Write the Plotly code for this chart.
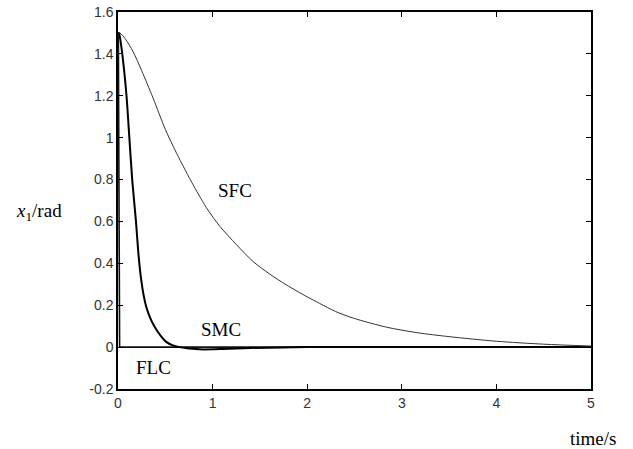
import plotly.graph_objects as go

# SFC (slow) response
sfc_t = [0, 0.02, 0.08, 0.16, 0.25, 0.37, 0.5, 0.62, 0.8, 0.95, 1.08, 1.25, 1.43, 1.6, 1.78, 2.0, 2.13, 2.3, 2.49, 2.84, 3.16, 3.5, 4.0, 4.5, 5.0]
sfc_y = [1.5, 1.5, 1.47, 1.41, 1.32, 1.19, 1.04, 0.925, 0.77, 0.655, 0.575, 0.49, 0.408, 0.35, 0.297, 0.24, 0.209, 0.17, 0.138, 0.095, 0.069, 0.05, 0.028, 0.014, 0.005]

# SMC (fast) response
smc_t = [0, 0.01, 0.02, 0.045, 0.09, 0.12, 0.15, 0.19, 0.215, 0.24, 0.27, 0.30, 0.34, 0.39, 0.45, 0.51, 0.58, 0.65, 0.75, 0.9, 1.1, 1.4, 2.0, 5.0]
smc_y = [1.5, 1.5, 1.48, 1.4, 1.2, 1.0, 0.8, 0.6, 0.45, 0.34, 0.25, 0.19, 0.14, 0.095, 0.055, 0.025, 0.008, 0.0, -0.007, -0.011, -0.009, -0.004, 0.0, 0.0]

# FLC (very fast) response
flc_t = [0, 0.004, 0.008, 0.011, 0.014, 0.017, 0.5, 5.0]
flc_y = [1.5, 1.45, 1.0, 0.5, 0.1, 0.0, 0.0, 0.0]

x_ticks = [0, 1, 2, 3, 4, 5]
y_ticks = [-0.2, 0, 0.2, 0.4, 0.6, 0.8, 1.0, 1.2, 1.4, 1.6]
y_tick_text = ["-0.2", "0", "0.2", "0.4", "0.6", "0.8", "1", "1.2", "1.4", "1.6"]

labels = [("SFC", 1.24, 0.75), ("SMC", 1.09, 0.082), ("FLC", 0.375, -0.097)]

W, H = 633, 449

fig = go.Figure()
fig.add_trace(go.Scatter(x=flc_t, y=flc_y, mode="lines", line=dict(color="#111111", width=1.6), showlegend=False))
fig.add_trace(go.Scatter(x=smc_t, y=smc_y, mode="lines", line=dict(color="#000000", width=2, shape="spline", smoothing=0.6), showlegend=False))
fig.add_trace(go.Scatter(x=sfc_t, y=sfc_y, mode="lines", line=dict(color="#333333", width=1, shape="spline", smoothing=0.8), showlegend=False))

for txt, tx, ty in labels:
    fig.add_annotation(x=tx, y=ty, text=txt, showarrow=False,
                       font=dict(family="Liberation Serif", size=19, color="#000000"))

fig.add_annotation(x=39 / W, y=0.645, xref="paper", yref="y", text="<i>x</i><sub>1</sub>/rad",
                   showarrow=False, xanchor="center", yanchor="middle",
                   font=dict(family="Liberation Serif", size=19, color="#000000"))
fig.add_annotation(x=593 / W, y=1 - 438 / H, xref="paper", yref="paper", text="time/s",
                   showarrow=False, xanchor="center", yanchor="middle",
                   font=dict(family="Liberation Serif", size=19, color="#000000"))

axis_common = dict(showgrid=False, zeroline=False, showline=True, linecolor="#000000",
                   linewidth=1.5, mirror="ticks", ticks="inside", ticklen=5,
                   tickcolor="#000000", tickwidth=1, automargin=False,
                   tickfont=dict(family="Liberation Sans", size=14, color="#333333"))

fig.update_xaxes(range=[0, 5], tickvals=x_ticks, ticktext=[str(v) for v in x_ticks],
                 domain=[118 / W, 591 / W], **axis_common)
fig.update_yaxes(range=[-0.2, 1.6], tickvals=y_ticks, ticktext=y_tick_text,
                 domain=[1 - 389 / H, 1 - 12 / H], **axis_common)

fig.update_layout(width=W, height=H, margin=dict(l=0, r=0, t=0, b=0, pad=0),
                  plot_bgcolor="#ffffff", paper_bgcolor="#ffffff", showlegend=False)

fig.write_html("out.html", config={"displayModeBar": False},
               post_script="document.body.style.margin='0';document.body.style.overflow='hidden';")
